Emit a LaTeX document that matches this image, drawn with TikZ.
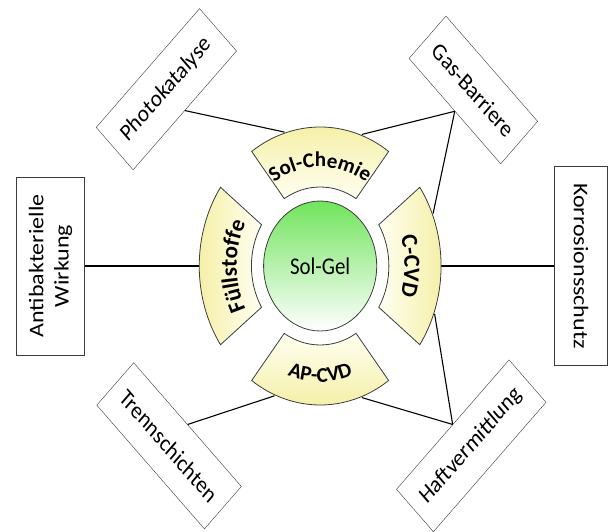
\documentclass[tikz,border=0pt]{standalone}
\usepackage{fontspec}
\setmainfont{Carlito}
\usetikzlibrary{decorations.text}
\definecolor{secyellow}{RGB}{244,238,160}
\definecolor{secwhite}{RGB}{255,255,242}
\definecolor{gelgreen}{RGB}{112,228,92}
\definecolor{boxgray}{RGB}{60,60,60}

\begin{document}
\begin{tikzpicture}[
      x=1pt, y=1pt, xscale=0.87, transform shape,
      mybox/.style={
         draw=boxgray,
         fill=white,
         minimum height=60pt,
         inner sep=2pt,
         align=center,
         font=\fontsize{24}{29}\selectfont},
      mysector/.style={draw=boxgray, line width=0.8pt},
      myline/.style={draw=black, line width=1.1pt}
      ]
  \useasboundingbox (-368,-266) rectangle (337.75,266);

  % outer boxes
  \node[mybox, rotate=45, minimum width=168pt] (photo) at (135:250) {Photokatalyse};
  \node[mybox, rotate=-45, minimum width=149pt] (gas) at (45:249) {Gas-Barriere};
  \node[mybox, rotate=90, minimum width=178pt, minimum height=78pt] (anti) at (180:310) {Antibakterielle\\Wirkung};
  \node[mybox, rotate=-90, minimum width=199pt, minimum height=61pt] (korr) at (0:300) {Korrosionsschutz};
  \node[mybox, rotate=-45, minimum width=175pt] (trenn) at (226:250) {Trennschichten};
  \node[mybox, rotate=45, minimum width=183pt] (haft) at (314:250) {Haftvermittlung};

  % ends on the ring
  \coordinate (solL) at (107:140);
  \coordinate (solR) at (70:140);
  \coordinate (cvdT) at (22:140);
  \coordinate (cvdM) at (0:139);
  \coordinate (cvdB) at (-20:140);
  \coordinate (apR) at (-70:140);
  \coordinate (apL) at (-112:140);
  \coordinate (fuM) at (180:139);

  \foreach \i/\j in {photo.south/solL, gas.south/solR, gas.south/cvdT,
                     anti.south/fuM, korr.south/cvdM, trenn.north/apL,
                     haft.north/apR, haft.north/cvdB}
     \draw[myline] (\i) -- (\j);

  % ring sectors
  \foreach \a/\s in {0/-90, 90/0, 180/90, 270/180}
     \draw[mysector, top color=secyellow, bottom color=secwhite, shading angle=\s]
       (\a-34.5:139) arc[start angle=\a-34.5, end angle=\a+34.5, radius=139]
       -- (\a+31.5:79) arc[start angle=\a+31.5, end angle=\a-31.5, radius=79] -- cycle;

  \node[circle, draw=boxgray, line width=0.8pt, minimum size=130pt, inner sep=0pt,
        top color=gelgreen, bottom color=white,
        font=\fontsize{24}{29}\selectfont] (solgel) at (0,0) {Sol-Gel};

  % curved labels
  \path[decorate, decoration={text along path, text align=center,
        text={|\bfseries\fontsize{21}{21}\selectfont|Sol-Chemie}}]
        (140:99) arc[start angle=140, end angle=40, radius=99];
  \path[decorate, decoration={text along path, text align=center,
        text={|\bfseries\fontsize{21}{21}\selectfont|AP-CVD}}]
        (230:116) arc[start angle=230, end angle=310, radius=116];
  \path[decorate, decoration={text along path, text align=center,
        text={|\bfseries\fontsize{23}{23}\selectfont|Füllstoffe}}]
        (225:96) arc[start angle=225, end angle=135, radius=96];
  \path[decorate, decoration={text along path, text align=center,
        text={|\bfseries\fontsize{23}{23}\selectfont|C-CVD}}]
        (45:97) arc[start angle=45, end angle=-45, radius=97];
\end{tikzpicture}
\end{document}
